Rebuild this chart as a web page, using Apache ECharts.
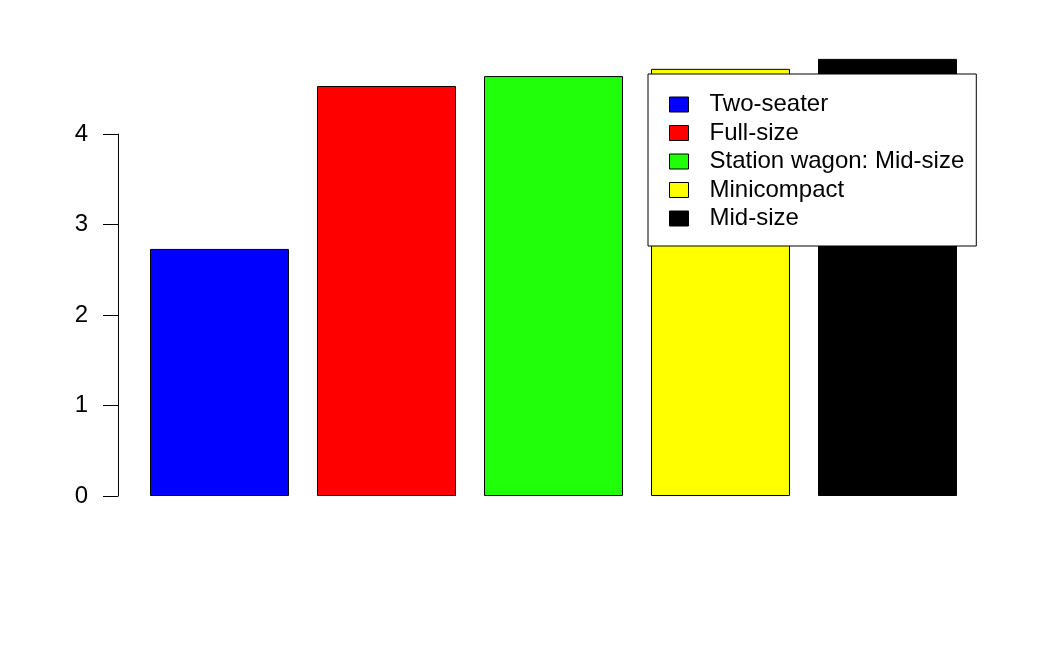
<!DOCTYPE html>
<html><head><meta charset="utf-8">
<script src="https://cdn.jsdelivr.net/npm/echarts@6/dist/echarts.min.js"></script>
<style>html,body{margin:0;padding:0;background:#fff}#c{width:1050px;height:648px}</style>
</head><body><div id="c"></div>
<script>
const categories = ['Two-seater', 'Full-size', 'Station wagon: Mid-size', 'Minicompact', 'Mid-size'];
const values = [2.73, 4.53, 4.64, 4.72, 4.83];
const colors = ['#0000FF', '#FF0000', '#22FF0A', '#FFFF00', '#000000'];
const yTicks = [0, 1, 2, 3, 4];

const font = 'Liberation Sans, Arial, Helvetica, sans-serif';
const series = categories.map((name, i) => ({
  name: name,
  type: 'bar',
  stack: 'all',
  xAxisIndex: 0,
  yAxisIndex: 0,
  barCategoryGap: '16.77%',
  data: categories.map((c, j) => (j === i ? values[i] : null)),
  itemStyle: { color: colors[i], borderColor: '#000', borderWidth: 1 },
  emphasis: { disabled: true },
  animation: false
}));

const chart = echarts.init(document.getElementById('c'));
chart.setOption({
  animation: false,
  backgroundColor: '#fff',
  grid: [
    { left: 136, right: 79, top: 43.5, bottom: 152 },
    { left: 118, width: 10, top: 134, bottom: 152 }
  ],
  xAxis: [
    { type: 'category', gridIndex: 0, data: categories, show: false },
    { type: 'value', gridIndex: 1, show: false }
  ],
  yAxis: [
    { type: 'value', gridIndex: 0, min: 0, max: 5, show: false },
    {
      type: 'value', gridIndex: 1, min: yTicks[0], max: yTicks[yTicks.length - 1], interval: 1,
      axisLine: { show: true, lineStyle: { color: '#000', width: 1 } },
      axisTick: { show: true, inside: false, length: 15, lineStyle: { color: '#000', width: 1 } },
      axisLabel: { margin: 30, fontSize: 24, color: '#000', fontFamily: font },
      splitLine: { show: false }
    }
  ],
  legend: {
    orient: 'vertical',
    left: 648,
    top: 74,
    data: categories,
    backgroundColor: '#fff',
    borderColor: '#000',
    borderWidth: 1,
    borderRadius: 0,
    padding: [18.5, 12, 15.5, 21],
    itemWidth: 19,
    itemHeight: 15,
    itemGap: 4.5,
    icon: 'rect',
    selectedMode: false,
    itemStyle: { borderColor: '#000', borderWidth: 1 },
    textStyle: { fontSize: 24, lineHeight: 24, color: '#000', fontFamily: font, padding: [0, 0, 0, 16] }
  },
  series: series
});
</script></body></html>
